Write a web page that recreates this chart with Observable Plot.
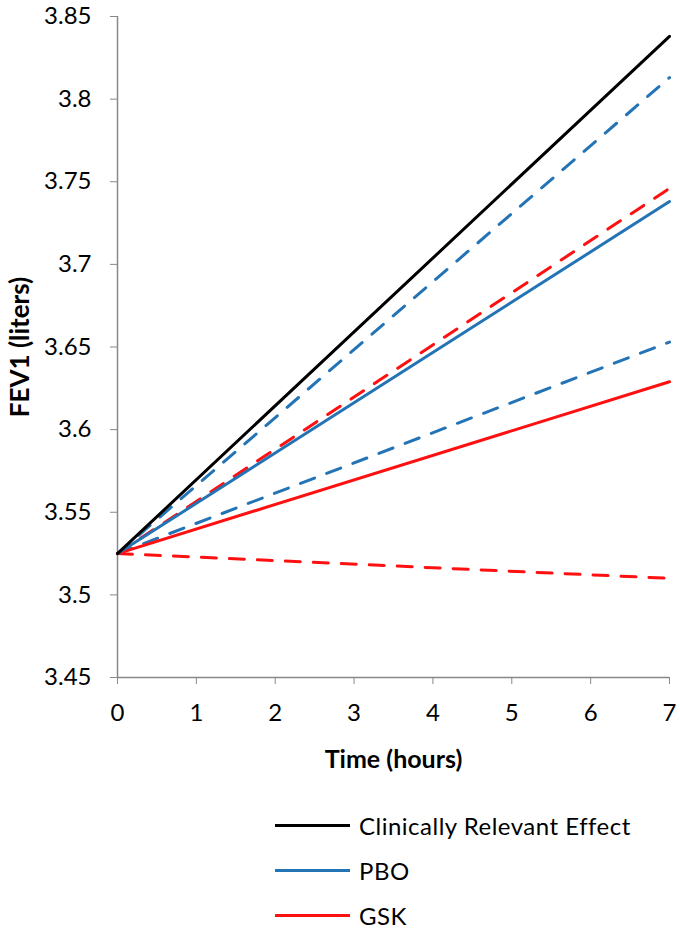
<!DOCTYPE html>
<html>
<head>
<meta charset="utf-8">
<script src="https://cdn.jsdelivr.net/npm/d3@7"></script>
<script src="https://cdn.jsdelivr.net/npm/@observablehq/plot@0.6"></script>
<style>
  html, body { margin: 0; padding: 0; background: #fff; }
  body { width: 680px; font-family: Lato, "Open Sans", sans-serif; }
  #legend { padding-top: 11px; }
  .row { display: flex; align-items: center; height: 45px; margin-left: 275px; font-size: 24px; letter-spacing: 0.5px; color: #000; }
  .sw { width: 75px; height: 0; border-top: 3px solid; margin-right: 9px; }
</style>
</head>
<body>
<div id="chart"></div>
<div id="legend"></div>
<script>
// ---- data ----
const times = [0, 7];
const yTicks = [3.45, 3.5, 3.55, 3.6, 3.65, 3.7, 3.75, 3.8, 3.85];
const xTicks = [0, 1, 2, 3, 4, 5, 6, 7];
const clinical = [3.525, 3.838];
const pbo = [3.525, 3.738];
const pboUpper = [3.525, 3.813];
const pboLower = [3.525, 3.653];
const gsk = [3.525, 3.629];
const gskUpper = [3.525, 3.746];
const gskLower = [3.525, 3.510];
const legendNames = ["Clinically Relevant Effect", "PBO", "GSK"];

const BLACK = "#000000", BLUE = "#2474b5", RED = "#ff1010";
const pts = vals => times.map((t, i) => ({t, v: vals[i]}));

const solid = (vals, color) => Plot.line(pts(vals), {x: "t", y: "v", stroke: color, strokeWidth: 3});
const dashed = (vals, color) => Plot.line(pts(vals), {x: "t", y: "v", stroke: color, strokeWidth: 3, strokeDasharray: "15,13"});

const FONT = "Lato, 'Open Sans', sans-serif";
const chart = Plot.plot({
  width: 680,
  height: 792,
  marginLeft: 117,
  marginRight: 11,
  marginTop: 16,
  marginBottom: 115,
  style: {fontFamily: FONT, fontSize: "24px", color: "#000", background: "#fff"},
  x: {domain: [0, 7], ticks: xTicks},
  y: {domain: [3.45, 3.85], ticks: yTicks},
  marks: [
    Plot.axisY({ticks: yTicks, tickSize: 7, tickPadding: 19, stroke: "#888", tickFormat: d => String(+d.toFixed(2)), label: null, fontSize: 24}),
    Plot.axisX({ticks: xTicks, tickSize: 7, tickPadding: 19, stroke: "#888", tickFormat: d => String(d), label: null, fontSize: 24}),
    Plot.ruleX([0], {stroke: "#888", strokeWidth: 1.5}),
    Plot.ruleY([3.45], {stroke: "#888", strokeWidth: 1.5}),
    dashed(gskLower, RED),
    dashed(pboLower, BLUE),
    dashed(pboUpper, BLUE),
    dashed(gskUpper, RED),
    solid(gsk, RED),
    solid(pbo, BLUE),
    solid(clinical, BLACK),
    Plot.text(["Time (hours)"], {frameAnchor: "bottom", lineAnchor: "middle", textAnchor: "middle", dy: 82, text: d => d, fontWeight: "bold", fontSize: 25, fill: "#000"}),
    Plot.text(["FEV1 (liters)"], {frameAnchor: "left", lineAnchor: "middle", textAnchor: "middle", dx: -97, rotate: -90, text: d => d, fontWeight: "bold", fontSize: 26, fill: "#000"})
  ]
});
document.getElementById("chart").appendChild(chart);

const colors = [BLACK, BLUE, RED];
const legend = document.getElementById("legend");
legendNames.forEach((name, i) => {
  const row = document.createElement("div");
  row.className = "row";
  const sw = document.createElement("div");
  sw.className = "sw";
  sw.style.borderTopColor = colors[i];
  const label = document.createElement("span");
  label.textContent = name;
  row.appendChild(sw);
  row.appendChild(label);
  legend.appendChild(row);
});
</script>
</body>
</html>
